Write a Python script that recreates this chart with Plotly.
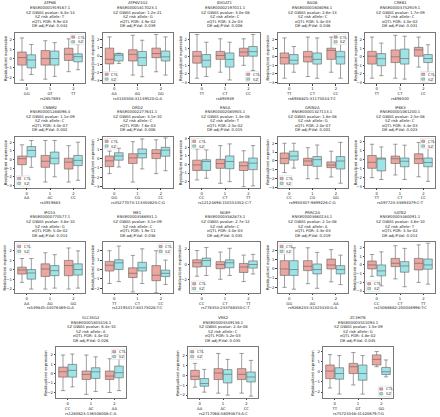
import plotly.graph_objects as go

W, H = 440, 417

GENES = ["ATP6B", "ATP6V1G2", "B3GAT1", "BAG6", "CREB1",
         "CNNM2", "DRD2", "ENSA", "GRIN2A", "IP6K3",
         "IPO13", "ME1", "NGEF", "PRRC2A", "SATB2",
         "SLC35G2", "VRK2", "ZC3H7B"]
ENSEMBL = ["ENSE00001919167.1", "ENSE00001817023.1", "ENSE00002197011.1", "ENSE00001608098.1", "ENSE00003732919.1",
           "ENSE00001288096.4", "ENSE00002277641.1", "ENSE00002085905.1", "ENSE00001327113.1", "ENSE00001061200.1",
           "ENSE00000770577.1", "ENSE00003566931.1", "ENSE00003582873.1", "ENSE00003660134.1", "ENSE00003480091.1",
           "ENSE00001855416.1", "ENSE00003549136.1", "ENSE00003551094.1"]
GWAS_P = ["8.4e-14", "1.2e-21", "3.0e-08", "2.6e-13", "1.7e-09",
          "1.1e-09", "3.1e-10", "1.4e-08", "1.8e-08", "2.5e-08",
          "3.8e-10", "3.1e-09", "2.7e-12", "2.1e-08", "4.6e-10",
          "6.4e-10", "2.4e-08", "1.5e-09"]
RISK = ["T", "G", "C", "C", "C", "C", "C", "T", "G", "C", "G", "C", "C", "A", "T", "A", "C", "G"]
EQTL_FDR = ["9.9e-03", "4.9e-02", "3.2e-03", "5.4e-03", "4.0e-02",
            "3.0e-07", "7.6e-03", "2.5e-02", "2.0e-07", "3.4e-03",
            "5.0e-02", "1.9e-11", "4.0e-03", "4.3e-03", "3.5e-02",
            "4.4e-02", "5.2e-03", "4.8e-02"]
DE_P = ["0.044", "0.039", "0.008", "0.046", "0.031",
        "0.002", "0.006", "0.015", "0.001", "0.023",
        "0.014", "0.038", "0.035", "0.019", "0.014",
        "0.026", "0.035", "0.045"]
SNPS = ["rs2857693", "rs3130508:31149520:G:A", "rs893949", "rs6936825:31175044:T:C", "rs698500",
        "rs4919683", "rs35277073:113350620:C:G", "rs12124898:150154352:C:T", "rs9930307:9899226:C:G", "rs597723:33694079:C:T",
        "rs549845:44076469:G:A", "rs12195417:84173028:T:C", "rs778353:233788350:C:T", "rs9266233:31325430:G:A", "rs15066682:200046996:T:C",
        "rs1280623:136508008:C:A", "rs2717068:58094873:A:C", "rs75723348:41420679:T:G"]
GENOTYPES = [["GG", "GT", "TT"], ["AA", "AG", "GG"], ["TT", "CT", "CC"], ["TT", "CT", "CC"], ["TT", "CT", "CC"],
             ["AA", "AC", "CC"], ["GG", "CG", "CC"], ["CC", "CT", "TT"], ["CC", "CG", "GG"], ["TT", "CT", "CC"],
             ["AA", "AG", "GG"], ["TT", "CT", "CC"], ["CC", "CT", "TT"], ["GG", "AG", "AA"], ["CC", "CT", "TT"],
             ["CC", "AC", "AA"], ["AA", "AC", "CC"], ["TT", "GT", "GG"]]
DOSAGE = [0, 1, 2]

CTL_MED = [[0.1, 0.0, 0.45], [-0.4, 0.2, 0.3], [0.07, 0.15, 0.55], [-0.1, 0.0, 0.75], [0.07, 0.0, 0.8],
           [0.1, -0.2, -0.3], [-0.24, 0.07, 0.55], [-0.05, 0.1, -0.15], [0.3, 0.0, -0.45], [-0.3, 0.1, 0.1],
           [0.0, 0.1, 0.46], [0.45, -0.41, -0.62], [0.19, -0.05, -0.38], [0.0, 0.29, 0.43], [0.0, 0.19, 0.19],
           [0.21, -0.07, -0.25], [-0.1, 0.23, 0.1], [0.07, 0.5, 1.23]]
CTL_Q1 = [[-0.7, -0.7, -0.2], [-0.95, -0.6, -0.2], [-0.74, -0.3, 0.07], [-0.85, -0.6, -0.3], [-0.85, -0.67, 0.07],
          [-0.6, -0.9, -1.1], [-0.86, -0.52, 0.0], [-0.7, -0.45, -0.7], [-0.3, -0.5, -0.75], [-0.96, -0.43, -0.43],
          [-0.43, -0.68, -0.6], [-0.17, -0.86, -1.2], [-0.38, -0.6, -1.1], [-0.7, -0.18, 0.0], [-0.45, -0.19, -0.57],
          [-0.36, -0.61, -0.61], [-0.43, -0.43, -0.43], [-0.67, -0.17, 0.67]]
CTL_Q3 = [[0.7, 0.85, 1.1], [0.95, 0.75, 0.95], [0.63, 0.63, 1.0], [0.45, 0.63, 1.0], [0.63, 0.8, 1.1],
          [0.4, 0.47, 0.15], [0.28, 0.52, 0.95], [0.5, 0.6, 0.3], [0.9, 0.3, -0.1], [0.46, 0.39, 0.64],
          [0.29, 0.64, 1.0], [0.86, 0.17, 0.41], [0.57, 0.33, 0.1], [0.9, 0.9, 1.07], [0.45, 0.75, 0.75],
          [0.71, 0.29, 0.29], [0.5, 0.67, 0.67], [0.67, 0.83, 1.67]]
CTL_LO = [[-2.3, -2.2, -1.4], [-2.1, -2.3, -1.9], [-2.5, -1.8, -1.0], [-2.5, -2.3, -1.8], [-2.5, -2.5, -1.2],
          [-2.0, -2.6, -2.6], [-1.6, -2.5, -1.6], [-1.8, -2.2, -2.6], [-1.3, -2.0, -1.8], [-2.0, -1.7, -1.9],
          [-1.3, -2.0, -2.0], [-1.5, -2.4, -2.5], [-1.6, -2.0, -2.3], [-2.0, -1.6, -1.4], [-1.3, -1.6, -2.0],
          [-1.8, -2.2, -2.0], [-1.2, -1.8, -1.8], [-1.6, -1.3, 0.5]]
CTL_HI = [[2.2, 1.9, 2.1], [2.3, 2.5, 2.6], [2.6, 2.1, 2.1], [2.2, 2.3, 2.3], [2.3, 2.5, 2.3],
          [1.7, 2.2, 1.6], [0.8, 1.8, 2.0], [1.8, 2.2, 1.6], [2.0, 1.5, 1.1], [1.7, 1.7, 1.9],
          [1.2, 1.8, 2.3], [2.0, 1.5, 2.0], [1.8, 1.6, 1.2], [2.2, 2.3, 2.1], [1.2, 2.2, 2.3],
          [2.0, 2.0, 1.6], [1.2, 2.2, 2.2], [1.7, 1.9, 2.0]]

SZ_MED = [[-0.15, 0.0, 0.2], [0.1, -0.2, -0.1], [-0.4, -0.3, 0.6], [-0.4, -0.3, 0.0], [-0.22, -0.2, -0.2],
          [1.05, 0.15, -0.1], [0.28, 0.52, 0.9], [0.35, 0.35, 0.15], [0.55, 0.15, 0.0], [0.1, -0.18, -0.32],
          [-0.32, -0.07, 0.04], [0.7, 0.17, -0.41], [0.48, 0.19, -0.05], [-0.07, -0.07, -0.07], [-0.68, -0.11, 0.0],
          [0.36, 0.21, 0.11], [-0.83, 0.1, -0.17], [-0.17, -0.17, 0.0]]
SZ_Q1 = [[-1.0, -0.7, -0.35], [-0.6, -1.15, -0.6], [-1.2, -1.2, 0.07], [-0.85, -0.85, -0.85], [-1.04, -0.85, -0.67],
         [0.3, -0.5, -0.7], [-0.17, 0.07, 0.25], [-0.7, -0.5, -0.6], [0.1, -0.6, -0.9], [-1.25, -0.79, -0.79],
         [-0.96, -0.6, -0.54], [0.0, -0.17, -0.76], [-0.3, -0.48, -0.52], [-0.7, -0.54, -0.54], [-1.25, -0.83, -0.49],
         [-0.36, -0.5, -0.43], [-1.1, -0.77, -0.67], [-0.73, -0.83, -0.27]]
SZ_Q3 = [[0.4, 0.8, 0.5], [0.3, 0.55, 0.6], [0.26, 0.45, 1.2], [0.26, 0.45, 0.63], [0.37, 0.9, 0.26],
         [1.5, 0.86, 0.47], [0.62, 1.03, 1.2], [0.55, 1.0, 0.75], [1.1, 0.5, 0.5], [0.18, 0.18, 0.18],
         [0.04, 0.46, 0.64], [1.03, 0.76, -0.07], [0.8, 0.57, 0.43], [0.9, 0.54, 0.36], [0.0, 0.38, 0.68],
         [1.0, 0.64, 0.82], [-0.33, 0.57, 0.33], [0.4, 0.67, 0.43]]
SZ_LO = [[-1.7, -1.9, -1.2], [-0.9, -2.5, -2.3], [-2.3, -2.7, -1.6], [-1.8, -2.5, -2.5], [-2.2, -2.6, -1.8],
         [-0.9, -2.0, -2.4], [-0.9, -1.1, -1.3], [-1.6, -2.0, -2.5], [-0.8, -2.0, -2.5], [-2.2, -2.2, -2.4],
         [-2.0, -1.9, -1.9], [-1.3, -1.5, -1.6], [-1.5, -1.5, -1.3], [-2.2, -2.1, -1.7], [-2.4, -2.5, -2.2],
         [-1.4, -1.9, -1.8], [-1.7, -2.0, -2.1], [-2.2, -2.2, -0.5]]
SZ_HI = [[1.5, 1.7, 1.5], [0.35, 1.9, 2.3], [1.7, 1.7, 2.6], [1.2, 2.2, 2.3], [1.6, 2.4, 1.4],
         [2.2, 2.2, 2.0], [1.1, 2.1, 2.2], [1.7, 2.4, 2.2], [2.0, 1.8, 2.1], [1.4, 1.6, 1.8],
         [1.2, 1.6, 2.0], [2.5, 2.2, 1.0], [2.2, 2.1, 1.3], [2.3, 1.8, 1.5], [1.5, 1.9, 2.5],
         [2.1, 1.8, 2.1], [0.6, 1.6, 1.5], [1.6, 1.6, 1.17]]

# ---- layout / style (not data) ----
Y_RANGE = [[-2.65, 2.75], [-3.3, 2.8], [-3.1, 2.8], [-3.1, 2.8], [-3.1, 2.8],
           [-3.25, 2.6], [-3.1, 2.3], [-2.7, 3.2], [-3.0, 2.7], [-3.1, 2.5],
           [-2.4, 2.9], [-2.5, 2.9], [-3.8, 2.9], [-2.6, 2.9], [-3.2, 2.6],
           [-2.6, 2.8], [-2.3, 2.8], [-2.6, 2.4]]
Y_DTICK = [1] * 12 + [2] + [1] * 5
LEGEND_CORNER = ["tr", "bl", "br", "tr", "br",
                 "bl", "tl", "tl", "bl", "tr",
                 "tl", "tr", "bl", "tl", "bl",
                 "tr", "tl", "br"]

CTL_FILL = "rgb(236,166,160)"
SZ_FILL = "rgb(158,227,230)"
EDGE = "rgb(95,95,95)"
FS = 3.8
FONT = "DejaVu Sans"

PW, PH = 70, 51
row_tops = [32, 137, 243, 349]
col_lefts = [15, 102.5, 190, 277.5, 365]
row4_lefts = [56, 188, 323]

panels = []
for i in range(18):
    if i < 15:
        r, c = divmod(i, 5)
        left, top = col_lefts[c], row_tops[r]
    else:
        left, top = row4_lefts[i - 15], row_tops[3]
    panels.append((left, top))

fig = go.Figure()
annotations = []
shapes = []

def px(x):
    return x / W

def py(y):
    return 1 - y / H

layout_axes = {}
for i, (left, top) in enumerate(panels):
    k = i + 1
    xa = "x" if k == 1 else f"x{k}"
    ya = "y" if k == 1 else f"y{k}"
    for name, q1, med, q3, lo, hi, fill in [
        ("CTL", CTL_Q1[i], CTL_MED[i], CTL_Q3[i], CTL_LO[i], CTL_HI[i], CTL_FILL),
        ("SZ", SZ_Q1[i], SZ_MED[i], SZ_Q3[i], SZ_LO[i], SZ_HI[i], SZ_FILL),
    ]:
        fig.add_trace(go.Box(
            x=DOSAGE, q1=q1, median=med, q3=q3, lowerfence=lo, upperfence=hi,
            name=name, offsetgroup=name, fillcolor=fill,
            line=dict(color=EDGE, width=0.6), whiskerwidth=0.5,
            boxpoints=False, showlegend=False, xaxis=xa, yaxis=ya,
            hoverinfo="skip"))
    xkey = "xaxis" if k == 1 else f"xaxis{k}"
    ykey = "yaxis" if k == 1 else f"yaxis{k}"
    common = dict(showgrid=False, zeroline=False, showline=True, mirror=True,
                  linecolor="rgb(120,120,120)", linewidth=0.6,
                  ticks="outside", ticklen=1.5, tickwidth=0.5, tickcolor="rgb(60,60,60)",
                  tickfont=dict(size=FS, family=FONT, color="#222"))
    layout_axes[xkey] = dict(common, domain=[px(left), px(left + PW)], anchor=ya,
                             range=[-0.5, 2.5], tickmode="array", tickvals=DOSAGE,
                             ticktext=[f"{d}<br>{g}" for d, g in zip(DOSAGE, GENOTYPES[i])])
    layout_axes[ykey] = dict(common, domain=[py(top + PH), py(top)], anchor=xa,
                             range=Y_RANGE[i], dtick=Y_DTICK[i], tick0=0)

    cx = left + PW / 2
    lines = [GENES[i], ENSEMBL[i], f"SZ GWAS pvalue: {GWAS_P[i]}", f"SZ risk allele: {RISK[i]}",
             f"eQTL FDR: {EQTL_FDR[i]}", f"DE adj.P.Val: {DE_P[i]}"]
    for j, t in enumerate(lines):
        annotations.append(dict(x=px(cx), y=py(top - 30 + j * 4.55), xref="paper", yref="paper",
                                text=t, showarrow=False, xanchor="center", yanchor="middle",
                                font=dict(size=FS, family=FONT, color="#222")))
    annotations.append(dict(x=px(cx), y=py(top + PH + 15), xref="paper", yref="paper",
                            text=SNPS[i], showarrow=False, xanchor="center", yanchor="middle",
                            font=dict(size=FS, family=FONT, color="#222")))
    annotations.append(dict(x=px(left - 10), y=py(top + PH / 2), xref="paper", yref="paper",
                            text="Residualized expression", textangle=-90, showarrow=False,
                            xanchor="center", yanchor="middle",
                            font=dict(size=FS, family=FONT, color="#222")))
    # legend
    lw, lh = 13, 10.5
    corner = LEGEND_CORNER[i]
    lx = left + 1.5 if corner[1] == "l" else left + PW - 1.5 - lw
    ly = top + 1.5 if corner[0] == "t" else top + PH - 1.5 - lh
    shapes.append(dict(type="rect", xref="paper", yref="paper",
                       x0=px(lx), x1=px(lx + lw), y0=py(ly + lh), y1=py(ly),
                       line=dict(color="rgb(215,215,215)", width=0.5), fillcolor="rgba(255,255,255,0.8)"))
    for j, (name, fill) in enumerate([("CTL", CTL_FILL), ("SZ", SZ_FILL)]):
        yy = ly + 2.8 + j * 4.8
        shapes.append(dict(type="rect", xref="paper", yref="paper",
                           x0=px(lx + 1.2), x1=px(lx + 4.2), y0=py(yy + 1.2), y1=py(yy - 1.2),
                           line=dict(color=EDGE, width=0.4), fillcolor=fill))
        annotations.append(dict(x=px(lx + 5), y=py(yy), xref="paper", yref="paper",
                                text=name, showarrow=False, xanchor="left", yanchor="middle",
                                font=dict(size=FS, family=FONT, color="#222")))

fig.update_layout(width=W, height=H, margin=dict(l=0, r=0, t=0, b=0),
                  paper_bgcolor="white", plot_bgcolor="white",
                  boxmode="group", boxgap=0.2, boxgroupgap=0.08,
                  showlegend=False, annotations=annotations, shapes=shapes,
                  **layout_axes)
fig.write_html("out.html", config={"displayModeBar": False},
               post_script="document.body.style.margin='0';document.body.style.overflow='hidden';")
